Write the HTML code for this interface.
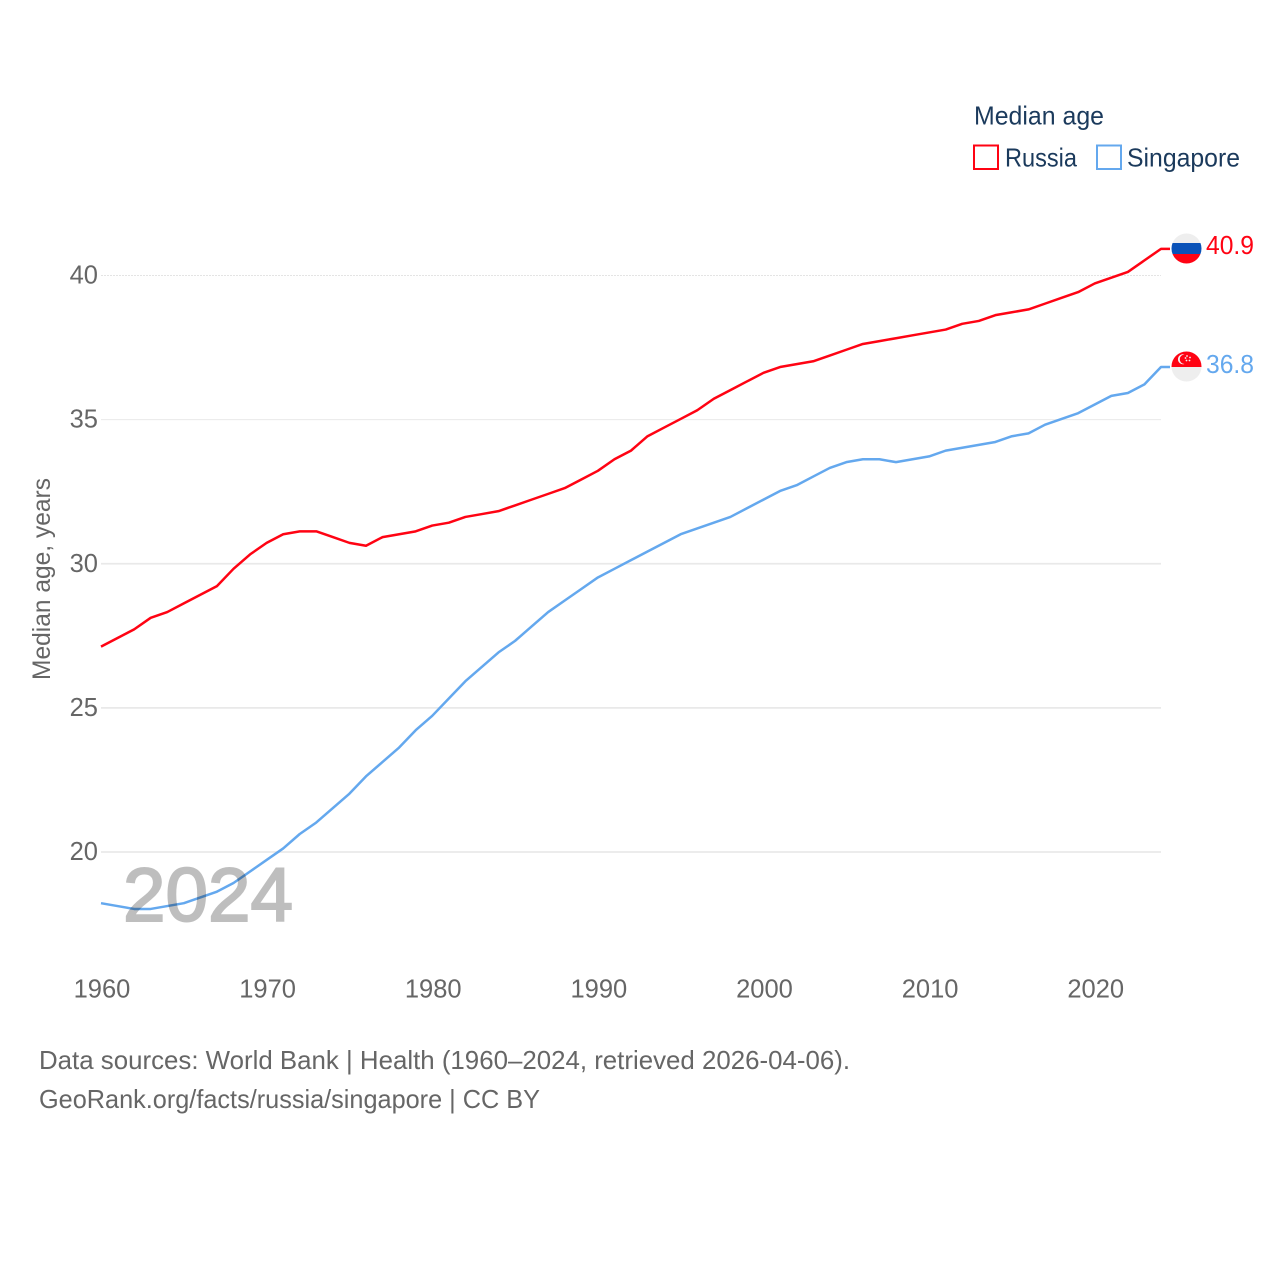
<!DOCTYPE html>
<html lang="en">
<head>
<meta charset="utf-8">
<title>Median age: Russia and Singapore</title>
<style>
html,body{margin:0;padding:0;background:#fff;}
svg{display:block;font-family:"Liberation Sans",sans-serif;}
</style>
</head>
<body>
<svg id="chart" width="1280" height="1280" viewBox="0 0 1280 1280" xmlns="http://www.w3.org/2000/svg">
  <g id="grid"></g>
  <g id="yticks"></g>
  <g id="xticks"></g>
  <text transform="translate(50,579) rotate(-90)" text-anchor="middle" font-size="25" fill="#666" textLength="202" lengthAdjust="spacingAndGlyphs">Median age, years</text>
  <g id="series"></g>
  <text x="123" y="921" font-size="76" fill="#000" stroke="#000" stroke-width="2" opacity="0.25" textLength="170" lengthAdjust="spacingAndGlyphs">2024</text>

  <g>
    <clipPath id="clip-ru"><circle cx="1186.5" cy="248.5" r="15"/></clipPath>
    <g clip-path="url(#clip-ru)">
      <rect x="1171" y="233" width="31" height="10" fill="#eeeeee"/>
      <rect x="1171" y="243" width="31" height="11" fill="#0a52b8"/>
      <rect x="1171" y="254" width="31" height="11" fill="#ff0313"/>
    </g>
  </g>
  <g>
    <clipPath id="clip-sg"><circle cx="1186.5" cy="366.5" r="15"/></clipPath>
    <g clip-path="url(#clip-sg)">
      <rect x="1171" y="351" width="31" height="16" fill="#ff0313"/>
      <rect x="1171" y="367" width="31" height="16" fill="#eeeeee"/>
    </g>
    <path d="M1184.500 354.500a5 5 0 1 0 0 9.500a4.500 4.500 0 0 1 0-9.500z" fill="#f4f4f4"/>
    <circle cx="1187" cy="356" r="0.9" fill="#f4f4f4"/>
    <circle cx="1190" cy="357.500" r="0.9" fill="#f4f4f4"/>
    <circle cx="1189.500" cy="360.500" r="0.9" fill="#f4f4f4"/>
    <circle cx="1186.500" cy="360.500" r="0.9" fill="#f4f4f4"/>
    <circle cx="1185.500" cy="358" r="0.9" fill="#f4f4f4"/>
  </g>
  <text x="1206" y="254" font-size="25.500" fill="#ff0313" textLength="48" lengthAdjust="spacingAndGlyphs">40.9</text>
  <text x="1206" y="373" font-size="25.500" fill="#64a8ee" textLength="48" lengthAdjust="spacingAndGlyphs">36.8</text>

  <g>
    <text x="974" y="124.500" font-size="26" fill="#1b3a5c" textLength="130" lengthAdjust="spacingAndGlyphs">Median age</text>
    <rect x="974" y="145.500" width="24" height="23.500" fill="#fff" stroke="#ff0313" stroke-width="2"/>
    <text x="1005" y="166.500" font-size="26" fill="#1b3a5c" textLength="72" lengthAdjust="spacingAndGlyphs">Russia</text>
    <rect x="1097" y="145.500" width="24" height="23.500" fill="#fff" stroke="#64a8ee" stroke-width="2"/>
    <text x="1127" y="166.500" font-size="26" fill="#1b3a5c" textLength="113" lengthAdjust="spacingAndGlyphs">Singapore</text>
  </g>

  <g>
    <text x="39" y="1069" font-size="26" fill="#666" textLength="811" lengthAdjust="spacingAndGlyphs">Data sources: World Bank | Health (1960–2024, retrieved 2026-04-06).</text>
    <text x="39" y="1108" font-size="26" fill="#666" textLength="501" lengthAdjust="spacingAndGlyphs">GeoRank.org/facts/russia/singapore | CC BY</text>
  </g>
</svg>
<script>
const years = [1960,1961,1962,1963,1964,1965,1966,1967,1968,1969,1970,1971,1972,1973,1974,1975,1976,1977,1978,1979,1980,1981,1982,1983,1984,1985,1986,1987,1988,1989,1990,1991,1992,1993,1994,1995,1996,1997,1998,1999,2000,2001,2002,2003,2004,2005,2006,2007,2008,2009,2010,2011,2012,2013,2014,2015,2016,2017,2018,2019,2020,2021,2022,2023,2024];
const russia = [27.1,27.4,27.7,28.1,28.3,28.6,28.9,29.2,29.8,30.3,30.7,31.0,31.1,31.1,30.9,30.7,30.6,30.9,31.0,31.1,31.3,31.4,31.6,31.7,31.8,32.0,32.2,32.4,32.6,32.9,33.2,33.6,33.9,34.4,34.7,35.0,35.3,35.7,36.0,36.3,36.6,36.8,36.9,37.0,37.2,37.4,37.6,37.7,37.8,37.9,38.0,38.1,38.3,38.4,38.6,38.7,38.8,39.0,39.2,39.4,39.7,39.9,40.1,40.5,40.9];
const singapore = [18.2,18.1,18.0,18.0,18.1,18.2,18.4,18.6,18.9,19.3,19.7,20.1,20.6,21.0,21.5,22.0,22.6,23.1,23.6,24.2,24.7,25.3,25.9,26.4,26.9,27.3,27.8,28.3,28.7,29.1,29.5,29.8,30.1,30.4,30.7,31.0,31.2,31.4,31.6,31.9,32.2,32.5,32.7,33.0,33.3,33.5,33.6,33.6,33.5,33.6,33.7,33.9,34.0,34.1,34.2,34.4,34.5,34.8,35.0,35.2,35.5,35.8,35.9,36.2,36.8];
const yTickValues = [20,25,30,35,40];
const xTickValues = [1960,1970,1980,1990,2000,2010,2020];

const NS = 'http://www.w3.org/2000/svg';
function xScale(year){ return 101 + (year - 1960) * (1161 - 101) / 64; }
function yScale(value){ return 852 - (value - 20) * (852 - 275.5) / 20; }

const gridGroup = document.getElementById('grid');
const yGroup = document.getElementById('yticks');
const xGroup = document.getElementById('xticks');
const seriesGroup = document.getElementById('series');

yTickValues.forEach(function(v){
  const line = document.createElementNS(NS, 'line');
  
  
  line.setAttribute('x1', 101);
  line.setAttribute('x2', 1161);
  line.setAttribute('y1', yScale(v));
  line.setAttribute('y2', yScale(v));
  line.setAttribute('stroke', v === 40 ? '#e4e4e4' : '#e9e9e9');
  line.setAttribute('stroke-width', v >= 35 ? 1 : 1.8);
  if (v === 40) line.setAttribute('stroke-dasharray', '2 1');
  gridGroup.appendChild(line);

  const label = document.createElementNS(NS, 'text');
  
  
  label.setAttribute('x', 98);
  label.setAttribute('y', yScale(v) + 8);
  label.setAttribute('text-anchor', 'end');
  label.setAttribute('font-size', '25.5');
  label.setAttribute('fill', '#666');
  label.textContent = String(v);
  yGroup.appendChild(label);
});

xTickValues.forEach(function(y){
  const label = document.createElementNS(NS, 'text');
  
  
  label.setAttribute('x', xScale(y) + 1);
  label.setAttribute('y', 997.5);
  label.setAttribute('text-anchor', 'middle');
  label.setAttribute('font-size', '25.5');
  label.setAttribute('fill', '#666');
  label.textContent = String(y);
  xGroup.appendChild(label);
});

function drawSeries(values, color, name){
  const pts = values.map(function(v, i){ return xScale(years[i]).toFixed(2) + ',' + (yScale(v) - 0.7).toFixed(2); });
  const last = values[values.length - 1];
  pts.push((xScale(years[years.length - 1]) + 9).toFixed(2) + ',' + (yScale(last) - 0.7).toFixed(2));
  const line = document.createElementNS(NS, 'polyline');
  
  
  line.setAttribute('points', pts.join(' '));
  line.setAttribute('fill', 'none');
  line.setAttribute('stroke', color);
  line.setAttribute('stroke-width', '2.5');
  line.setAttribute('stroke-linejoin', 'round');
  seriesGroup.appendChild(line);
}
drawSeries(russia, '#ff0313', 'russia-line');
drawSeries(singapore, '#64a8ee', 'singapore-line');
</script>
</body>
</html>
